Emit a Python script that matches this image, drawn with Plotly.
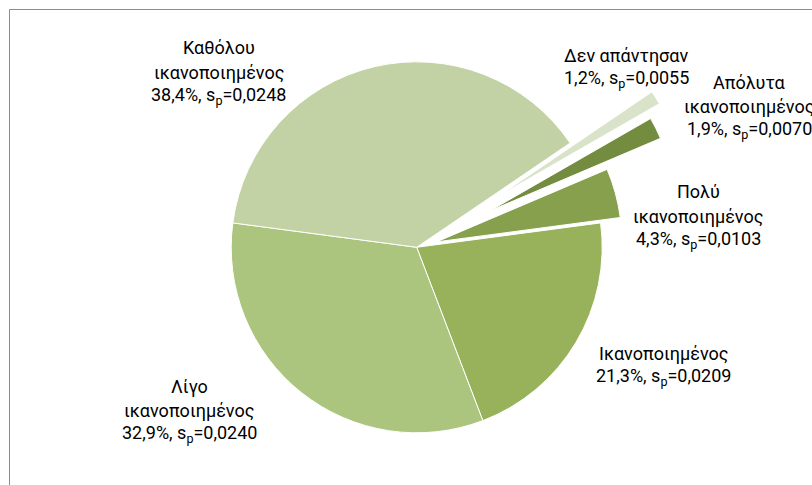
import math
import plotly.graph_objects as go

# ---- data (clockwise order, starting just after the "Καθόλου" slice) ----
categories = ["Δεν απάντησαν", "Απόλυτα ικανοποιημένος", "Πολύ ικανοποιημένος",
              "Ικανοποιημένος", "Λίγο ικανοποιημένος", "Καθόλου ικανοποιημένος"]
percent = [1.2, 1.9, 4.3, 21.3, 32.9, 38.4]
sp_values = [0.0055, 0.0070, 0.0103, 0.0209, 0.0240, 0.0248]

# ---- style ----
colors = ["#D8E3CA", "#738C40", "#86A04D", "#97B25A", "#ABC47E", "#C3D2A5"]
explode = [0.52, 0.44, 0.11, 0.0, 0.0, 0.0]
wrap_name = [False, True, True, False, True, True]
label_pos = [(626, 55), (749, 82), (698, 192), (663, 353), (189, 386), (219, 48)]
line_gap = 24

W, H = 812, 485
cx, cy, R = 416.7, 247.3, 185.5   # pie centre (px from top-left) and radius
rotation = 55.8
FONT = "Roboto"

fig = go.Figure()


def add_pie(visible_idx, centre_x, centre_y):
    cols = [colors[i] if i in visible_idx else "rgba(0,0,0,0)" for i in range(len(percent))]
    lw = [1 if i in visible_idx else 0 for i in range(len(percent))]
    fig.add_trace(go.Pie(
        labels=categories, values=percent, sort=False, direction="clockwise",
        rotation=rotation, textinfo="none", hoverinfo="label+percent",
        marker=dict(colors=cols, line=dict(color="white", width=lw)),
        domain=dict(x=[(centre_x - R) / W, (centre_x + R) / W],
                    y=[(H - centre_y - R) / H, (H - centre_y + R) / H]),
        showlegend=False,
    ))


# main body (non-exploded slices)
add_pie([i for i, e in enumerate(explode) if e == 0], cx, cy)

# exploded slices, each shifted along its mid-angle
total = sum(percent)
cum = 0.0
for i, p in enumerate(percent):
    if explode[i] > 0:
        mid = math.radians(rotation + (cum + p / 2) / total * 360)
        dx = explode[i] * R * math.sin(mid)
        dy = -explode[i] * R * math.cos(mid)
        add_pie([i], cx + dx, cy + dy)
    cum += p

# labels
annotations = []
for i, cat in enumerate(categories):
    name_lines = cat.split(" ", 1) if wrap_name[i] else [cat]
    val_line = (f"{percent[i]:.1f}".replace(".", ",") + "%, s<sub>p</sub>="
                + f"{sp_values[i]:.4f}".replace(".", ","))
    lines = name_lines + [val_line]
    x0, y0 = label_pos[i]
    for k, t in enumerate(lines):
        annotations.append(dict(
            text=t, x=x0 / W, y=1 - (y0 + k * line_gap) / H, xref="paper", yref="paper",
            xanchor="center", yanchor="middle", showarrow=False,
            font=dict(family=FONT, size=18, color="#000000"),
        ))

fig.update_layout(
    width=W, height=H,
    margin=dict(l=0, r=0, t=0, b=0),
    paper_bgcolor="white", plot_bgcolor="white",
    annotations=annotations,
    shapes=[dict(type="rect", xref="paper", yref="paper",
                 x0=9.5 / W, x1=1.05, y0=-0.05, y1=1 - 9.5 / H,
                 line=dict(color="#8C8C8C", width=1), fillcolor="rgba(0,0,0,0)",
                 layer="below")],
)

fig.write_html("out.html",
               config={"displayModeBar": False},
               post_script="document.body.style.margin='0';document.body.style.overflow='hidden';")
